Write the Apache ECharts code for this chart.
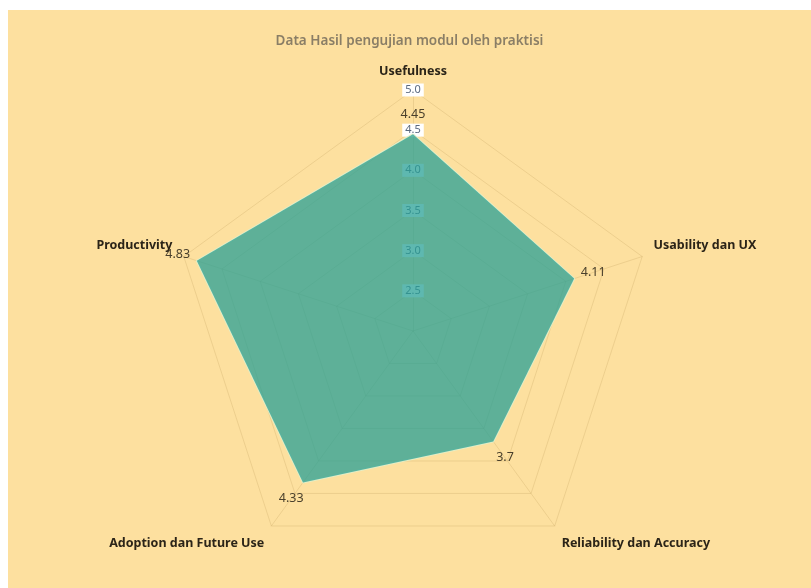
<!DOCTYPE html>
<html><head><meta charset="utf-8">
<script src="https://cdn.jsdelivr.net/npm/echarts@6/dist/echarts.min.js"></script>
<style>html,body{margin:0;background:#fff;} #c{position:absolute;left:8px;top:10px;width:803px;height:578px;}</style>
</head><body><div id="c"></div>
<script>
const titleText = 'Data Hasil pengujian modul oleh praktisi';
// listed in ECharts' radar order (counter-clockwise from the top)
const indicatorNames = ['Usefulness', 'Productivity', 'Adoption dan Future Use', 'Reliability dan Accuracy', 'Usability dan UX'];
const scores = [4.45, 4.83, 4.33, 3.7, 4.11];
const axisMin = 2;
const axisMax = 5;
const axisStep = 0.5;

const FONT = '"Noto Sans", "Open Sans", sans-serif';
const chart = echarts.init(document.getElementById('c'));

const indicator = indicatorNames.map((n, i) => ({
  name: n, min: axisMin, max: axisMax,
  axisLabel: { show: i === 0 }
}));

const n = indicatorNames.length;
const labelSeries = scores.map((v, k) => {
  const a = (-90 - 360 / n * k) * Math.PI / 180;
  const d = 20;
  return {
    type: 'radar', silent: true, z: 5,
    symbol: 'circle', symbolSize: 1,
    itemStyle: { color: 'rgba(0,0,0,0)' },
    lineStyle: { width: 0, opacity: 0 },
    label: {
      show: true, position: 'inside',
      offset: [d * Math.cos(a), d * Math.sin(a)],
      formatter: p => (p.value === scores[k] ? String(p.value) : ''),
      color: '#4a402c', fontSize: 12.5, fontFamily: FONT
    },
    data: [{ value: scores }]
  };
});

const nameBase = { color: '#2b2418', fontSize: 12.5, fontWeight: 'bold', fontFamily: FONT };

chart.setOption({
  backgroundColor: '#fde09f',
  animation: false,
  title: {
    text: titleText, left: 'center', top: 19,
    textStyle: { fontSize: 13.5, fontWeight: 600, color: '#8a7e66', fontFamily: FONT }
  },
  radar: {
    center: [405, 321], radius: 241,
    startAngle: 90,
    splitNumber: Math.round((axisMax - axisMin) / axisStep),
    indicator: indicator,
    nameGap: 12,
    axisName: Object.assign({}, nameBase, {
      formatter: name => {
        const k = indicatorNames.indexOf(name);
        const s = Math.sin((90 + 360 / n * k) * Math.PI / 180);
        if (s < -0.5) return '{dn|' + name + '}';
        if (Math.abs(s) < 0.5) return '{up|' + name + '}';
        return '{n|' + name + '}';
      },
      rich: {
        n: Object.assign({}, nameBase),
        dn: Object.assign({ padding: [16, 0, 0, 0] }, nameBase),
        up: Object.assign({ padding: [0, 0, 14, 0] }, nameBase)
      }
    }),
    splitLine: { lineStyle: { color: 'rgba(200,165,100,0.3)', width: 1 } },
    axisLine: { lineStyle: { color: 'rgba(200,165,100,0.3)', width: 1 } },
    splitArea: { show: false },
    axisTick: { show: false },
    axisLabel: {
      show: false, showMinLabel: false, margin: 0,
      align: 'center', verticalAlign: 'middle',
      formatter: v => Number(v).toFixed(1),
      color: '#5a6a80', fontSize: 11, fontFamily: FONT,
      backgroundColor: '#ffffff', padding: [1, 3]
    }
  },
  series: [{
    type: 'radar', z: 2,
    symbol: 'none',
    lineStyle: { color: 'rgba(225,238,200,0.9)', width: 2 },
    areaStyle: { color: 'rgba(40,160,150,0.75)', opacity: 1 },
    data: [{ value: scores, name: 'Skor' }]
  }].concat(labelSeries)
});
</script></body></html>
